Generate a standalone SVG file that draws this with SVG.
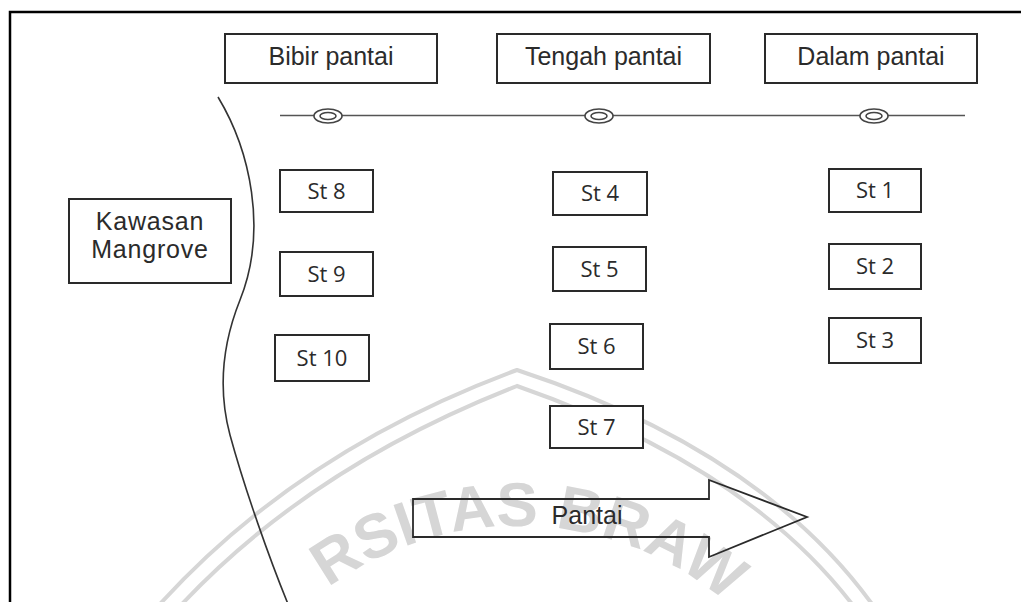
<svg xmlns="http://www.w3.org/2000/svg" width="1021" height="602" viewBox="0 0 1021 602">
  <style>
    .box { fill: #ffffff; stroke: #2a2a2a; stroke-width: 2; }
    .hdr { font-family: "Liberation Sans", Arial, sans-serif; font-size: 25px; fill: #2b2b2b; text-anchor: middle; }
    .st { font-family: "Open Sans", "Liberation Sans", sans-serif; font-size: 22px; fill: #2b2b2b; text-anchor: middle; }
    .wm { fill: none; stroke: #d6d6d6; stroke-width: 4; }
    .wmt { font-family: "Liberation Sans", Arial, sans-serif; font-weight: bold; font-size: 62px; fill: #d6d6d6; text-anchor: middle; }
    .buoy { fill: #ffffff; stroke: #444; stroke-width: 1.6; }
  </style>
  <defs>
    <path id="wmArc" d="M215.4,737.9 A322,322 0 0 1 820.6,737.9"/>
  </defs>
  <rect width="1021" height="602" fill="#ffffff"/>

  <!-- watermark -->
  <g id="watermark">
    <path class="wm" d="M160,604 Q300,450 517,370 Q760,450 872,604"/>
    <path class="wm" d="M182,604 Q312,466 517,386 Q746,466 852,604"/>
    <text class="wmt"><textPath href="#wmArc" startOffset="51.5%">RSITAS BRAW</textPath></text>
  </g>

  <!-- frame -->
  <path d="M10,604 V12 H1023" fill="none" stroke="#000" stroke-width="2.5"/>

  <g id="connectors">
    <path id="shoreline" d="M218,97 C250,150 268,230 240,300 C222,345 218,390 230,435 C245,490 270,560 288,604" fill="none" stroke="#333" stroke-width="1.6"/>
    <line id="transect" x1="280" y1="115.5" x2="965" y2="115.5" stroke="#555" stroke-width="1.6"/>
  </g>

  <g id="buoy1"><ellipse class="buoy" cx="328" cy="116" rx="14" ry="7"/><ellipse class="buoy" cx="328" cy="116" rx="8" ry="3.5"/></g>
  <g id="buoy2"><ellipse class="buoy" cx="599" cy="116" rx="14" ry="7"/><ellipse class="buoy" cx="599" cy="116" rx="8" ry="3.5"/></g>
  <g id="buoy3"><ellipse class="buoy" cx="874" cy="116" rx="14" ry="7"/><ellipse class="buoy" cx="874" cy="116" rx="8" ry="3.5"/></g>

  <g id="bibir"><rect class="box" x="225" y="34" width="212" height="49"/><text class="hdr" x="331" y="65">Bibir pantai</text></g>
  <g id="tengah"><rect class="box" x="497" y="34" width="213" height="49"/><text class="hdr" x="603.5" y="65">Tengah pantai</text></g>
  <g id="dalam"><rect class="box" x="765" y="34" width="212" height="49"/><text class="hdr" x="871" y="65">Dalam pantai</text></g>

  <g id="mangrove"><rect class="box" x="69" y="199" width="162" height="84"/>
    <text class="hdr" x="150" y="230" letter-spacing="0.8">Kawasan</text>
    <text class="hdr" x="150" y="258" letter-spacing="0.8">Mangrove</text>
  </g>

  <g id="st8"><rect class="box" x="280" y="170" width="93" height="42"/><text class="st" x="326.5" y="199">St 8</text></g>
  <g id="st9"><rect class="box" x="280" y="252" width="93" height="44"/><text class="st" x="326.5" y="282">St 9</text></g>
  <g id="st10"><rect class="box" x="275" y="335" width="94" height="46"/><text class="st" x="322" y="366">St 10</text></g>

  <g id="st4"><rect class="box" x="553" y="172" width="94" height="43"/><text class="st" x="600" y="201">St 4</text></g>
  <g id="st5"><rect class="box" x="553" y="247" width="93" height="44"/><text class="st" x="599.5" y="277">St 5</text></g>
  <g id="st6"><rect class="box" x="550" y="324" width="93" height="45"/><text class="st" x="596.5" y="354">St 6</text></g>
  <g id="st7"><rect class="box" x="550" y="406" width="93" height="42"/><text class="st" x="596.5" y="435">St 7</text></g>

  <g id="st1"><rect class="box" x="829" y="169" width="92" height="43"/><text class="st" x="875" y="198">St 1</text></g>
  <g id="st2"><rect class="box" x="829" y="244" width="92" height="45"/><text class="st" x="875" y="274">St 2</text></g>
  <g id="st3"><rect class="box" x="829" y="318" width="92" height="45"/><text class="st" x="875" y="348">St 3</text></g>

  <g id="pantai-arrow">
    <path d="M413,499 H709 V480 L807,517 L709,557 V537 H413 Z" fill="none" stroke="#2a2a2a" stroke-width="1.8"/>
    <text class="hdr" x="587" y="524">Pantai</text>
  </g>
</svg>
